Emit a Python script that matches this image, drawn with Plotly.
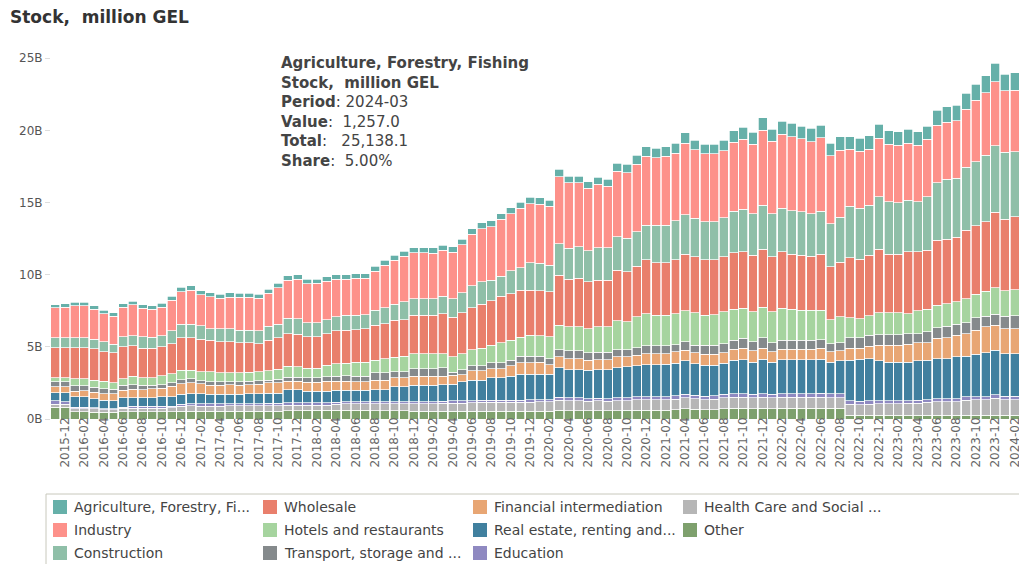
import pandas as pd
import plotly.graph_objects as go

# ---- categories (monthly periods) ----
months = [p.strftime('%Y-%m') for p in pd.period_range('2015-11', '2024-03', freq='M')]
tick_months = months[1:100:2]          # 2015-12, 2016-02, ... 2024-02
y_tickvals = [0, 5000, 10000, 15000, 20000, 25000]
y_ticktext = ['0B', '5B', '10B', '15B', '20B', '25B']

# ---- series values, million GEL ----
agriculture = [230,240,240,240,220,220,230,250,260,250,
               250,260,270,300,310,290,280,280,290,280,
               280,280,290,310,330,330,310,310,320,330,
               330,330,330,340,350,360,360,370,370,370,
               370,370,380,390,400,400,410,420,430,440,
               440,440,500,470,470,460,470,480,550,560,
               620,650,650,660,680,710,670,660,680,750,
               800,820,830,860,820,900,920,880,920,890,
               860,930,880,880,930,980,930,920,960,930,
               930,1040,1080,1080,1100,1100,1160,1270,1160,1210,
               1257.0]
industry = [2080,2140,2230,2230,2090,1960,1940,2040,2120,1990,
            1920,1980,2120,2260,2340,2160,2190,2120,2200,2290,
            2290,2240,2270,2510,2620,2740,2710,2720,2650,2570,
            2490,2560,2510,2710,2960,3040,3150,3160,3160,3140,
            3170,3230,3320,3560,3690,3710,3930,3940,4130,4090,
            4110,4090,4640,4540,4430,4330,4390,4240,4540,4570,
            4700,4780,4670,4770,4690,4950,4760,4710,4710,4640,
            4770,4870,4810,5190,5010,5150,5140,5060,4980,5080,
            4720,4660,3930,3970,3880,4060,3990,4000,3940,3920,
            3970,4000,3960,4000,4040,4270,4320,4450,4270,4260,
            4700]
construction = [670,670,670,670,650,690,600,720,720,770,
                750,790,870,950,950,920,810,910,910,880,
                880,900,970,950,1080,1070,980,980,970,1000,
                1030,990,970,1040,1090,1110,1230,1160,1160,1160,
                1200,1270,1390,1530,1550,1430,1390,1580,1540,1890,
                1900,1830,2190,2150,2190,2150,2260,2260,2310,2320,
                2380,2380,2610,2610,2680,2750,2670,2610,2610,2710,
                2890,2940,2890,3070,3010,3010,3010,3010,2960,3000,
                2980,3100,3580,3520,3470,3650,3630,3560,3590,3470,
                3700,3980,4140,4090,4340,4430,4630,4620,4640,4510,
                4800]
wholesale = [2080,2080,2150,2170,2200,2040,2060,2190,2100,2050,
             2050,2010,2080,2240,2240,2270,2200,2150,2150,2080,
             2020,1950,2130,2170,2240,2230,2190,2190,2210,2280,
             2290,2250,2320,2430,2420,2560,2540,2660,2660,2660,
             2800,2750,2820,2910,3050,3080,3240,3230,3260,3130,
             3100,3120,3470,3290,3360,3230,3240,3240,3510,3460,
             3520,3740,3630,3630,3740,3930,3880,3860,3810,3810,
             3920,3920,3930,4020,3810,3920,3800,3810,3740,3860,
             3650,3800,4170,4110,4210,4370,4070,4070,4270,4090,
             4110,4500,4460,4470,4740,4760,4800,5230,4950,5040,
             5300]
hotels = [300,300,480,460,480,500,460,460,570,530,
          530,590,630,650,580,620,690,620,620,620,
          630,630,650,700,770,720,630,630,780,860,
          860,990,990,880,1000,1020,1090,1040,1040,1040,
          970,1070,1110,1110,1200,1220,1380,1390,1320,1450,
          1430,1500,1690,1660,1660,1690,1760,1760,1990,1920,
          2120,2250,2130,2130,2150,2150,2240,2080,2130,2190,
          2130,2080,2080,2090,2150,2200,2160,2080,2080,2060,
          1660,1800,1360,1320,1340,1530,1500,1500,1390,1570,
          1560,1550,1570,1540,1690,1630,1740,1820,1760,1830,
          1900]
transport = [350,350,380,360,350,350,320,350,330,300,
             260,250,250,280,280,210,230,230,210,230,
             260,240,180,250,290,290,330,330,330,340,
             380,390,390,510,510,390,390,530,530,530,
             580,200,340,370,370,400,400,370,460,460,
             400,420,510,530,530,510,520,520,510,510,
             530,530,530,530,510,580,510,620,620,650,
             630,660,620,720,620,630,630,630,630,560,
             580,550,720,720,760,740,740,740,740,650,
             760,760,790,770,740,850,740,780,850,870,
             880]
financial = [390,390,410,430,440,460,490,510,580,560,
             600,610,740,740,760,670,610,610,630,610,
             600,650,700,700,580,600,600,600,660,630,
             630,580,580,640,640,650,650,620,620,620,
             580,620,510,650,650,620,620,740,790,790,
             850,670,760,760,760,690,700,700,740,670,
             720,760,760,730,770,740,760,770,770,700,
             760,800,770,780,700,710,710,710,710,780,
             700,700,850,780,850,1090,1160,1180,1230,1250,
             1200,1390,1450,1500,1570,1680,1800,1720,1740,1740,
             1750]
real_estate = [580,650,700,700,620,580,530,650,600,600,
               600,650,630,690,690,710,680,680,670,670,
               690,690,720,720,910,910,830,830,830,840,
               810,810,810,860,860,1040,1040,1160,1140,1140,
               1160,1160,1320,1400,1380,1570,1570,1660,1800,1780,
               1750,1750,2040,1970,1970,1970,1970,1990,2100,2150,
               2170,2240,2240,2250,2280,2310,2200,2150,2120,2170,
               2310,2360,2240,2380,2240,2360,2360,2360,2360,2360,
               2190,2260,2820,2920,2940,2770,2700,2680,2670,2720,
               2720,2800,2800,2880,2820,2920,3030,3070,2960,2960,
               2950]
education = [220,150,110,110,90,80,80,100,120,120,
             120,120,130,150,160,150,150,150,150,150,
             150,150,150,150,150,150,140,140,140,140,
             140,140,140,140,140,140,140,140,140,140,
             140,150,150,150,150,150,150,150,150,150,
             160,160,200,190,190,180,180,180,200,200,
             210,210,210,220,230,250,240,230,230,250,
             260,260,250,260,250,260,260,260,260,270,
             270,270,230,220,220,210,200,200,200,200,
             200,210,210,220,230,230,230,250,230,230,
             240]
health = [200,210,230,230,220,170,170,230,250,250,
          260,260,270,330,360,350,350,360,360,370,
          370,380,380,380,380,380,380,380,380,410,
          440,440,450,460,460,470,480,490,510,520,
          550,570,570,590,600,610,610,620,620,630,
          640,640,700,690,690,670,680,670,680,690,
          700,700,700,710,720,740,720,710,720,740,
          750,750,740,750,740,740,750,750,750,760,
          760,760,760,750,780,790,800,800,830,850,
          900,930,930,950,1040,1060,1060,1180,1090,1090,
          1100]
other = [830,820,490,490,480,470,470,500,510,510,
         500,500,500,540,550,550,550,540,550,540,
         550,540,550,550,580,580,590,590,590,600,
         600,600,590,580,580,570,560,550,550,540,
         530,530,530,540,550,540,540,530,530,540,
         550,550,600,580,580,560,570,560,580,590,
         620,620,620,620,650,720,680,630,650,720,
         750,750,720,750,720,760,750,750,750,750,
         730,730,260,250,250,250,250,250,250,250,
         250,250,250,250,260,260,260,260,250,250,
         261.1]

# stacking order: first trace at the bottom
series = [
    ("Other", other, "#7ea06d"),
    ("Health Care and Social ...", health, "#b6b6b6"),
    ("Education", education, "#8f89c1"),
    ("Real estate, renting and...", real_estate, "#41809f"),
    ("Financial intermediation", financial, "#e8a674"),
    ("Transport, storage and ...", transport, "#858a8c"),
    ("Hotels and restaurants", hotels, "#a6d49f"),
    ("Wholesale", wholesale, "#e97f6c"),
    ("Construction", construction, "#8fbfa8"),
    ("Industry", industry, "#fd918a"),
    ("Agriculture, Forestry, Fi...", agriculture, "#66b0a9"),
]

fig = go.Figure()
for name, vals, color in series:
    fig.add_trace(go.Bar(
        x=months, y=vals, name=name, showlegend=False,
        marker=dict(color=color, line=dict(color="rgba(255,255,255,0.9)", width=0.8)),
    ))

W, H = 1019, 564
L, R, T, B = 51, 0, 51, 145
pw, ph = W - L - R, H - T - B


def px_x(px):
    return (px - L) / pw


def px_y(py):
    return (H - B - py) / ph


fig.update_layout(
    width=W, height=H,
    barmode="stack", bargap=0.08,
    margin=dict(l=L, r=R, t=T, b=B, autoexpand=False),
    paper_bgcolor="white", plot_bgcolor="white",
    font=dict(family="DejaVu Sans", size=12, color="#555"),
    title=dict(text="<b>Stock,\u00a0 million GEL</b>", x=10 / W, xanchor="left",
               y=1 - 17 / H, yanchor="middle", font=dict(size=17, color="#333")),
    xaxis=dict(type="category", range=[-0.45, 99.45], tickmode="array",
               tickvals=tick_months, ticktext=tick_months, tickangle=-90,
               ticks="", ticklabelstandoff=-5, ticklabeloverflow="allow",
               showgrid=False, showline=False, zeroline=False,
               tickfont=dict(size=12, color="#666")),
    yaxis=dict(range=[0, 25500], tickmode="array", tickvals=y_tickvals, ticktext=y_ticktext,
               ticks="outside", ticklen=5, tickcolor="#dddddd", showgrid=False,
               showline=False, zeroline=False, tickfont=dict(size=12, color="#555")),
    showlegend=False,
)

# legend: frame + entries laid out in 3 rows, column-major (top of stack first)
fig.add_shape(type="rect", xref="paper", yref="paper",
              x0=px_x(46), x1=px_x(1030), y0=px_y(494), y1=px_y(600),
              line=dict(color="#c8c8bc", width=1), fillcolor="rgba(0,0,0,0)")
legend_items = list(reversed(series))
for k, (name, _vals, color) in enumerate(legend_items):
    col, row = divmod(k, 3)
    sx = 53 + 210 * col
    cy = 507 + 23 * row
    fig.add_shape(type="rect", xref="paper", yref="paper",
                  x0=px_x(sx), x1=px_x(sx + 14), y0=px_y(cy - 7), y1=px_y(cy + 7),
                  line=dict(width=0), fillcolor=color)
    fig.add_annotation(text=name, xref="paper", yref="paper", x=px_x(sx + 19), y=px_y(cy),
                       xanchor="left", yanchor="middle", showarrow=False,
                       font=dict(size=14, color="#444"))

# tooltip-like info block
info = ("<b>Agriculture, Forestry, Fishing</b><br>"
        "<b>Stock,\u00a0 million GEL</b><br>"
        "<b>Period</b>: 2024-03<br>"
        "<b>Value</b>:\u00a0 1,257.0<br>"
        "<b>Total</b>:\u00a0\u00a0 25,138.1<br>"
        "<b>Share</b>:\u00a0 5.00%")
fig.add_annotation(text=info, xref="paper", yref="paper", x=px_x(279), y=px_y(52),
                   xanchor="left", yanchor="top", align="left", showarrow=False,
                   font=dict(size=15, color="#444"))

fig.write_html("out.html", config={"displayModeBar": False},
               post_script="document.body.style.margin='0';")
